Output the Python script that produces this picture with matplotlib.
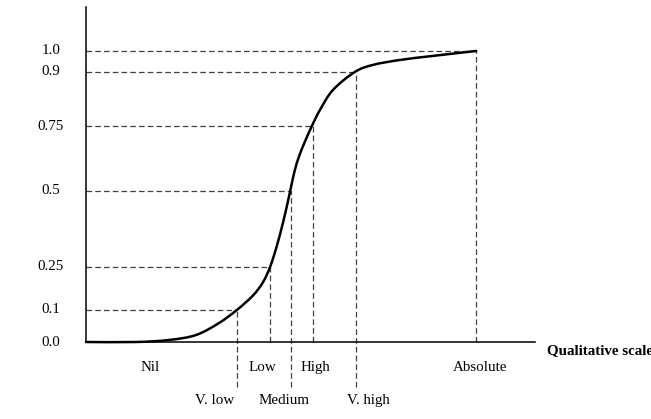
"""Qualitative scale vs. numeric level: S-shaped mapping curve."""
import matplotlib
matplotlib.use("Agg")
import matplotlib.pyplot as plt
from matplotlib.path import Path
from matplotlib.patches import PathPatch

plt.rcParams["font.family"] = ["Liberation Serif", "DejaVu Serif"]

# numeric levels on the vertical axis and their drawn heights
LEVEL_LABELS = ["0.0", "0.1", "0.25", "0.5", "0.75", "0.9", "1.0"]
LEVEL_POS = [0.0, 0.110, 0.258, 0.519, 0.742, 0.928, 1.0]

# qualitative points on the horizontal scale (0..100 along the axis)
QUAL_NAMES = ["V. low", "Low", "Medium", "High", "V. high", "Absolute"]
QUAL_POS = [33.6, 41.0, 45.7, 50.6, 60.1, 86.9]

# category labels and where they sit along the axis
LABELS_UPPER = ["Nil", "Low", "High", "Absolute"]
LABELS_UPPER_X = [14.3, 39.2, 51.0, 87.8]
LABELS_LOWER = ["V. low", "Medium", "V. high"]
LABELS_LOWER_X = [28.7, 44.1, 63.0]

# mapping curve
CURVE_X = [0.0, 11.1, 18.5, 24.5, 29.6, 33.6, 37.2, 39.4, 41.0, 42.5, 43.9,
           44.9, 45.7, 46.5, 47.5, 48.8, 50.3, 52.1, 55.0, 59.9, 63.9, 69.9,
           77.3, 86.9]
CURVE_Y = [0.0, 0.0, 0.007, 0.024, 0.065, 0.110, 0.160, 0.205, 0.258, 0.330,
           0.412, 0.478, 0.535, 0.590, 0.640, 0.690, 0.742, 0.797, 0.866,
           0.928, 0.952, 0.969, 0.983, 1.0]

W, H = 651, 419
FS = 10.8
DASH = dict(color="#404040", lw=0.9, ls=(0, (4.5, 2.5)), clip_on=False)


def smooth_path(xs, ys):
    # Catmull-Rom through the read points, drawn as cubic Bezier segments
    verts = [(xs[0], ys[0])]
    codes = [Path.MOVETO]
    n = len(xs)
    for i in range(n - 1):
        p0 = (xs[max(i - 1, 0)], ys[max(i - 1, 0)])
        p1 = (xs[i], ys[i])
        p2 = (xs[i + 1], ys[i + 1])
        p3 = (xs[min(i + 2, n - 1)], ys[min(i + 2, n - 1)])
        c1 = (p1[0] + (p2[0] - p0[0]) / 6, p1[1] + (p2[1] - p0[1]) / 6)
        c2 = (p2[0] - (p3[0] - p1[0]) / 6, p2[1] - (p3[1] - p1[1]) / 6)
        verts += [c1, c2, p2]
        codes += [Path.CURVE4] * 3
    return Path(verts, codes)


fig = plt.figure(figsize=(W / 100, H / 100), dpi=100)
ax = fig.add_axes([86 / W, (H - 342) / H, 449 / W, 335 / H])
ax.set_xlim(0, 100)
ax.set_ylim(0, 1.151)
ax.set_xticks([])
ax.set_yticks([])
for s in ("top", "right"):
    ax.spines[s].set_visible(False)
for s in ("left", "bottom"):
    ax.spines[s].set_linewidth(1.1)

# guide lines from each level to the curve and down to the axis
extend_below = {"V. low", "Medium", "V. high"}
for name, xq, yl in zip(QUAL_NAMES, QUAL_POS, LEVEL_POS[1:]):
    ax.plot([0, xq], [yl, yl], **DASH)
    ybot = -0.155 if name in extend_below else 0
    ax.plot([xq, xq], [ybot, yl], **DASH)

ax.add_patch(PathPatch(smooth_path(CURVE_X, CURVE_Y), facecolor="none",
                       edgecolor="black", lw=1.8, capstyle="round",
                       clip_on=False, zorder=3))

for lab, yp in zip(LEVEL_LABELS, LEVEL_POS):
    ax.text(-7.8, yp, lab, ha="center", va="center", fontsize=FS)

for lab, xp in zip(LABELS_UPPER, LABELS_UPPER_X):
    ax.text(xp, -0.089, lab, ha="center", va="center", fontsize=FS)
for lab, xp in zip(LABELS_LOWER, LABELS_LOWER_X):
    ax.text(xp, -0.2, lab, ha="center", va="center", fontsize=FS)

ax.text(102.7, -0.031, "Qualitative scale", ha="left", va="center",
        fontsize=FS, fontweight="bold", clip_on=False)

fig.savefig("out.png", dpi=100, facecolor="white")
